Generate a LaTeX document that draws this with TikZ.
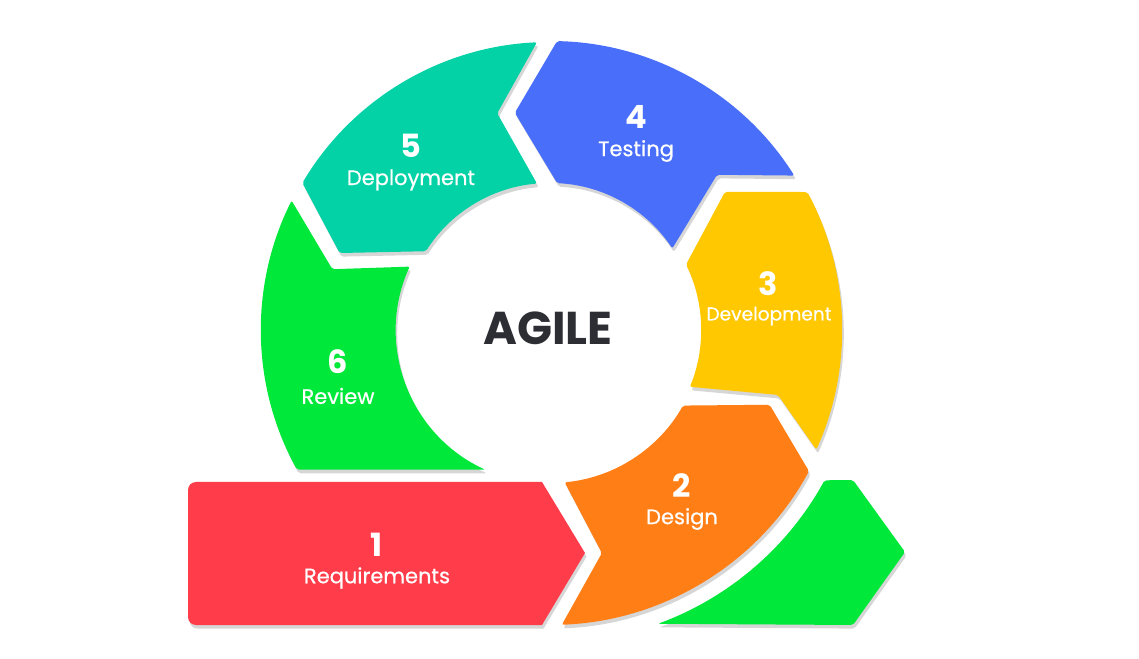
\documentclass[tikz,border=0pt]{standalone}
\usepackage{fontspec}
\setmainfont{Poppins}
\newfontfamily\phasefont{Poppins}[FakeBold=0.6]
\usepackage{tikz}
\usetikzlibrary{shadows}
\definecolor{reqred}{RGB}{255,60,74}
\definecolor{designorange}{RGB}{255,127,22}
\definecolor{devyellow}{RGB}{255,200,0}
\definecolor{testblue}{RGB}{72,110,250}
\definecolor{deployteal}{RGB}{2,210,165}
\definecolor{reviewgreen}{RGB}{0,232,58}
\definecolor{agiletext}{RGB}{45,45,52}
\tikzset{
  phase/.style={
    draw=none, rounded corners=1pt,
    drop shadow={shadow xshift=0.8pt, shadow yshift=-1.8pt, fill=black, opacity=0.16}
  },
  phase num/.style={text=white, inner sep=0pt, font=\fontsize{16}{18}\selectfont\bfseries},
  phase name/.style={text=white, inner sep=0pt, font=\phasefont\fontsize{10.5}{12}\selectfont},
  center text/.style={text=agiletext, inner sep=0pt, font=\fontsize{23}{26}\selectfont\bfseries},
}

\begin{document}
\begin{tikzpicture}[x=0.5pt, y=0.5pt]
  \useasboundingbox (0,0) rectangle (1139,658);
  \begin{scope}[shift={(550,328)}]
    \fill[phase, fill=reqred]
      (-200,-295) [rounded corners=4pt] -- (-362,-295) -- (-362,-152) -- (-200,-152)
      [sharp corners] -- (-8,-152) -- (35,-223) -- (-8,-295) -- cycle;
    \fill[phase, fill=designorange]
      (-87.7:295) arc[start angle=-87.7, end angle=-28.6, radius=295] -- (-18.8:232)
      -- (-29.6:153) arc[start angle=-29.6, end angle=-84.5, radius=153] -- (-76.9:229) -- cycle;
    \fill[phase, fill=devyellow]
      (-24.2:292) arc[start angle=-24.2, end angle=28.2, radius=292] -- (38.3:223)
      -- (25.7:151) arc[start angle=25.7, end angle=-22.1, radius=151] -- (-15.9:237) -- cycle;
    \fill[phase, fill=testblue]
      (32.3:289) arc[start angle=32.3, end angle=88.6, radius=289] -- (99.2:220)
      -- (87.2:147) arc[start angle=87.2, end angle=33.7, radius=147] -- (42.9:228) -- cycle;
    \fill[phase, fill=deployteal]
      (92.6:288) arc[start angle=92.6, end angle=149.3, radius=288] -- (159.9:224)
      -- (147.6:147) arc[start angle=147.6, end angle=95.1, radius=147] -- (103.7:223) -- cycle;
    \fill[phase, fill=reviewgreen]
      (153.4:289) arc[start angle=153.4, end angle=208.9, radius=289]
      -- (245.1:154) arc[start angle=245.1, end angle=155.7, radius=154] -- (164.4:226) -- cycle;
    \fill[phase, fill=reviewgreen]
      (-69.8:313) arc[start angle=-69.8, end angle=-28.7, radius=313]
      -- (303,-150) -- (355,-222) -- (303,-295) -- cycle;
  \end{scope}

  \node[center text] (AGILE) at (548,330) {AGILE};

  \node[phase num] (REQnum) at (377,113) {1};
  \node[phase name] (REQ) at (377,80) {Requirements};
  \node[phase num] (DESnum) at (682,172) {2};
  \node[phase name] (DES) at (682,139) {Design};
  \node[phase num] (DEVnum) at (768,374) {3};
  \node[phase name, font=\phasefont\fontsize{9.3}{11}\selectfont] (DEV) at (769,342) {Development};
  \node[phase num] (TESTnum) at (636,541) {4};
  \node[phase name] (TEST) at (636,507) {Testing};
  \node[phase num] (DEPnum) at (411,512) {5};
  \node[phase name] (DEP) at (411,478) {Deployment};
  \node[phase num] (REVnum) at (338,296) {6};
  \node[phase name] (REV) at (338,262) {Review};
\end{tikzpicture}
\end{document}
